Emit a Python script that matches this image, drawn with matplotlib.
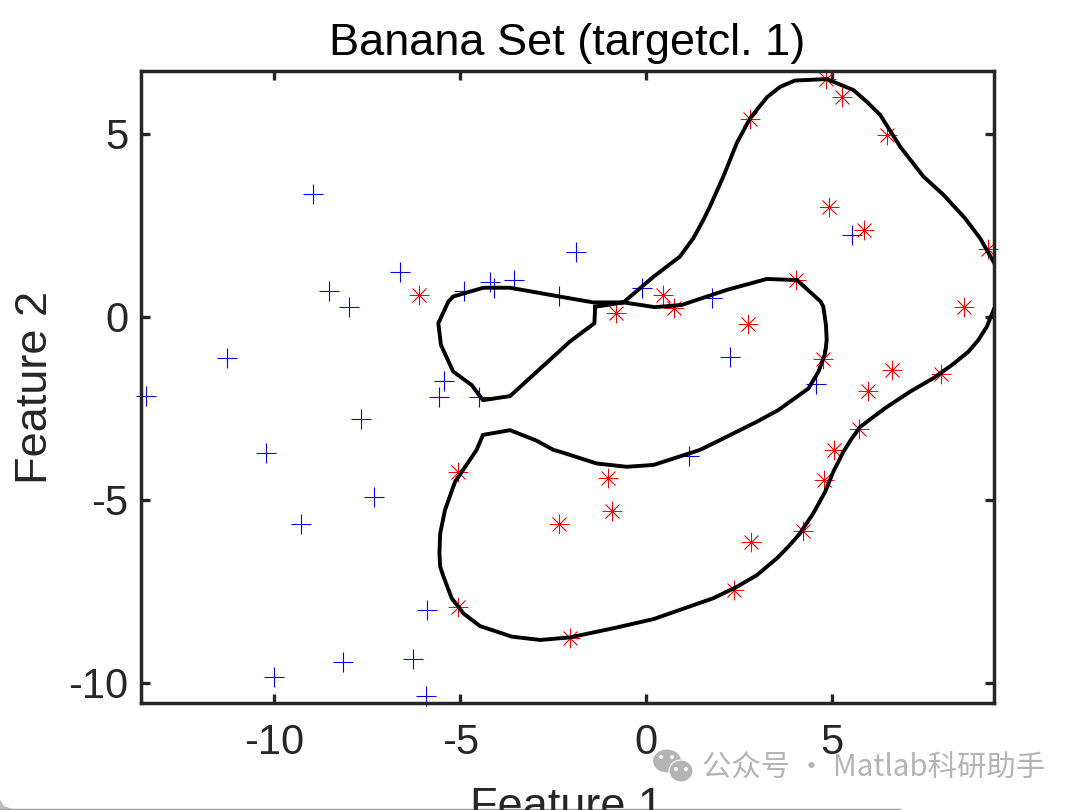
import matplotlib
matplotlib.use('Agg')
import matplotlib.pyplot as plt
from matplotlib.lines import Line2D
from matplotlib.patches import Ellipse, Polygon

# outlier class
blue_x = [-8.97, -6.63, -8.52, -7.98, -4.89, -4.21, -4.10, -3.55, -2.33, -11.28, -13.45, -5.43, -5.56, -4.49, -7.67,
          -1.89, -0.10, 1.78, 2.25, 4.57, 5.54, -10.22, -7.33, -9.28, -5.90, -8.16, -6.26, -10.01, -5.92, 1.16]
blue_y = [3.35, 1.22, 0.69, 0.27, 0.70, 0.94, 0.79, 1.00, 0.57, -1.13, -2.16, -1.77, -2.20, -2.20, -2.80,
          1.76, 0.78, 0.52, -1.09, -1.83, 2.23, -3.72, -4.92, -5.67, -8.01, -9.43, -9.36, -9.84, -10.35, -3.81]

# target class
red_x = [-6.11, 4.84, 5.28, 2.79, 6.48, 4.92, 5.87, 9.19, 4.04, 0.45, 0.74, -0.80, 8.56, 2.74, 4.75, 6.63, 7.94,
         5.96, 5.73, -5.05, -2.33, -5.07, 5.05, -1.03, 4.79, -0.91, 2.83, 4.23, 2.36, -2.05]
red_y = [0.59, 6.49, 5.99, 5.40, 4.96, 3.00, 2.36, 1.85, 1.00, 0.60, 0.23, 0.11, 0.27, -0.21, -1.16, -1.46, -1.57,
         -2.04, -3.08, -4.25, -5.66, -7.93, -3.64, -4.42, -4.46, -5.31, -6.16, -5.85, -7.46, -8.77]

# decision boundary
line_x = [-1.37, -1.39, -2.05, -3.66, -4.39, -4.69, -5.19, -5.52, -5.59, -5.32, -5.19, -4.38, -3.66, -2.05, -1.42,
          -0.61, 0.24, 0.96, 2.17, 3.25, 4.06, 4.70, 4.77, 4.84, 4.86, 4.82, 4.64, 4.37, 3.56, 2.98, 1.99, 1.45, 0.20,
          -0.52, -1.33, -2.31, -2.49, -2.94, -3.66, -4.39, -4.56, -5.14, -5.41, -5.54, -5.56, -5.54, -5.45, -5.23,
          -5.05, -4.92, -4.47, -3.61, -2.85, -2.05, -0.88, 0.20, 1.81, 2.44, 2.98, 3.52, 3.83, 4.14, 4.50, 4.82, 5.04,
          5.31, 5.54, 5.76, 6.43, 7.10, 7.73, 8.23, 8.67, 8.94, 9.17, 9.37, 9.69, 9.37, 8.99, 8.58, 8.00, 7.46, 6.84,
          6.30, 5.94, 5.58, 4.86, 4.01, 3.61, 3.25, 2.80, 2.44, 2.08, 1.72, 1.54, 1.27, 0.91, 0.56, 0.20, -0.61, -1.37]
line_y = [0.27, -0.18, -0.68, -2.17, -2.28, -1.87, -1.50, -0.77, -0.18, 0.41, 0.55, 0.79, 0.79, 0.50, 0.39,
          0.39, 0.26, 0.32, 0.73, 1.03, 1.00, 0.41, 0.27, -0.23, -0.64, -1.00, -1.50, -1.96, -2.55, -2.87, -3.37, -3.64, -4.05,
          -4.10, -4.01, -3.69, -3.64, -3.39, -3.10, -3.23, -3.64, -4.51, -5.28, -5.92, -6.46, -6.83, -7.10, -7.69,
          -7.92, -8.10, -8.45, -8.74, -8.83, -8.76, -8.51, -8.26, -7.69, -7.38, -7.06, -6.60, -6.28, -5.92, -5.37, -4.78, -4.23,
          -3.69, -3.32, -3.01, -2.50, -2.05, -1.68, -1.32, -0.96, -0.64, -0.27, 0.23, 0.87, 1.46, 2.14, 2.69, 3.33, 3.83, 4.64,
          5.51, 5.87, 6.19, 6.49, 6.45, 6.28, 5.99, 5.42, 4.74, 3.83, 3.01, 2.64, 2.14, 1.64, 1.37, 1.09, 0.39, 0.27]

x_ticks = [-10, -5, 0, 5]
y_ticks = [-10, -5, 0, 5]

plt.rcParams['font.family'] = ['Liberation Sans', 'DejaVu Sans']
plt.rcParams['axes.unicode_minus'] = False
dark = '#262626'

fig = plt.figure(figsize=(10.8, 8.1), dpi=100)
ax = fig.add_axes([141 / 1080, 1 - 703.3 / 810, (994.3 - 141) / 1080, (703.3 - 71) / 810])

blue_pts, = ax.plot(blue_x, blue_y, '+', color='#0000ff', ms=14, mew=0.8, clip_on=False, zorder=2)
red_pts, = ax.plot(red_x, red_y, linestyle='none', marker=(8, 2, 0), color='#ff0000', ms=14, mew=0.55, clip_on=False,
                   zorder=2)
blue_pts.set_snap(False)
red_pts.set_snap(False)
ax.plot(line_x, line_y, color='black', lw=2.8, solid_joinstyle='round', zorder=3)

ax.set_xlim(-13.59, 9.37)
ax.set_ylim(-10.56, 6.71)
ax.set_xticks(x_ticks)
ax.set_yticks(y_ticks)
ax.tick_params(direction='in', top=True, right=True, length=6.5, width=2.4, color=dark, labelcolor=dark, labelsize=30)
ax.tick_params(axis='x', pad=14)
ax.tick_params(axis='y', pad=9)
for side in ax.spines.values():
    side.set_linewidth(2.5)
    side.set_color(dark)
    side.set_zorder(4)

fig.text(567 / 1080, 1 - 55 / 810, 'Banana Set (targetcl. 1)', fontsize=32.5, color='black', ha='center', va='baseline')
fig.text(567 / 1080, 1 - 819 / 810, 'Feature 1', fontsize=32.5, color=dark, ha='center', va='baseline')
fig.text(56 / 1080, 1 - 387 / 810, 'Feature 2', fontsize=32.5, color=dark, ha='right', va='center', rotation=90,
         rotation_mode='default')

# watermark
grey = '#b4b4b4'
for cx, cy, w, h in [(667, 761, 29, 24), (681, 771, 24, 22)]:
    fig.add_artist(Ellipse((cx / 1080, 1 - cy / 810), w / 1080, h / 810, facecolor=grey, edgecolor='white', lw=0.8,
                           transform=fig.transFigure))
for cx, cy in [(661, 757), (672, 757), (676, 769), (686, 769)]:
    fig.add_artist(Ellipse((cx / 1080, 1 - cy / 810), 4 / 1080, 4 / 810, facecolor='white', edgecolor='none',
                           transform=fig.transFigure))
fig.text(702 / 1080, 1 - 767 / 810, '公众号 · Matlab科研助手', fontsize=21.2, color=grey, ha='left', va='center',
         family=['Noto Sans CJK SC', 'DejaVu Sans'])

# edge of the screenshot window
fig.add_artist(Line2D([0, 900 / 1080], [1 - 809 / 810, 1 - 809 / 810], color='#a0a0a0', lw=1))
fig.add_artist(Polygon([(0, 1 - 800 / 810), (4 / 1080, 1 - 806 / 810), (12 / 1080, 1 - 809 / 810), (0, 1 - 810 / 810)],
                       closed=True, facecolor='#bdbdbd', edgecolor='none', transform=fig.transFigure))

fig.savefig('out.png', dpi=100)
